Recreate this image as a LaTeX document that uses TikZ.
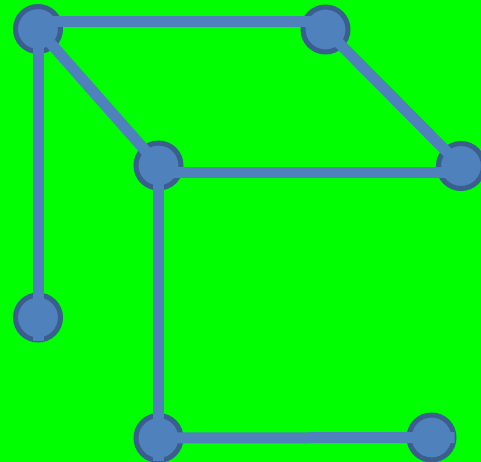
\documentclass[tikz,border=0pt]{standalone}
\begin{document}
\begin{tikzpicture}[x=1pt,y=-1pt,
  vert/.style={circle,draw=vborder,fill=vfill,line width=5pt,minimum size=45pt,inner sep=0pt},
  edge/.style={draw=vfill,line width=11pt}]
\definecolor{vfill}{HTML}{4F81BD}
\definecolor{vborder}{HTML}{3A5E8E}
\definecolor{bg}{HTML}{00FF00}
\fill[bg] (0,0) rectangle (481,462);
\useasboundingbox (0,0) rectangle (481,462);
\node[vert] (A) at (38,29) {};
\node[vert] (B) at (325.5,29.5) {};
\node[vert] (C) at (158.5,165.5) {};
\node[vert] (D) at (461,166) {};
\node[vert] (E) at (38,317.5) {};
\node[vert] (F) at (158.5,438) {};
\node[vert] (G) at (431.5,437.5) {};
\path[edge] ([yshift=7pt]A.center) -- ([xshift=8pt,yshift=7.5pt]B.center);
\path[edge] (A.center) -- ([yshift=-23.5pt]E.center);
\path[edge] (A.center) -- (C.center);
\path[edge] (B.center) -- (D.center);
\path[edge] ([yshift=-7pt]C.center) -- ([yshift=-6.5pt]D.center);
\path[edge] (C.center) -- ([yshift=-23pt]F.center);
\path[edge] (F.center) -- ([xshift=23pt]G.center);
\end{tikzpicture}
\end{document}
